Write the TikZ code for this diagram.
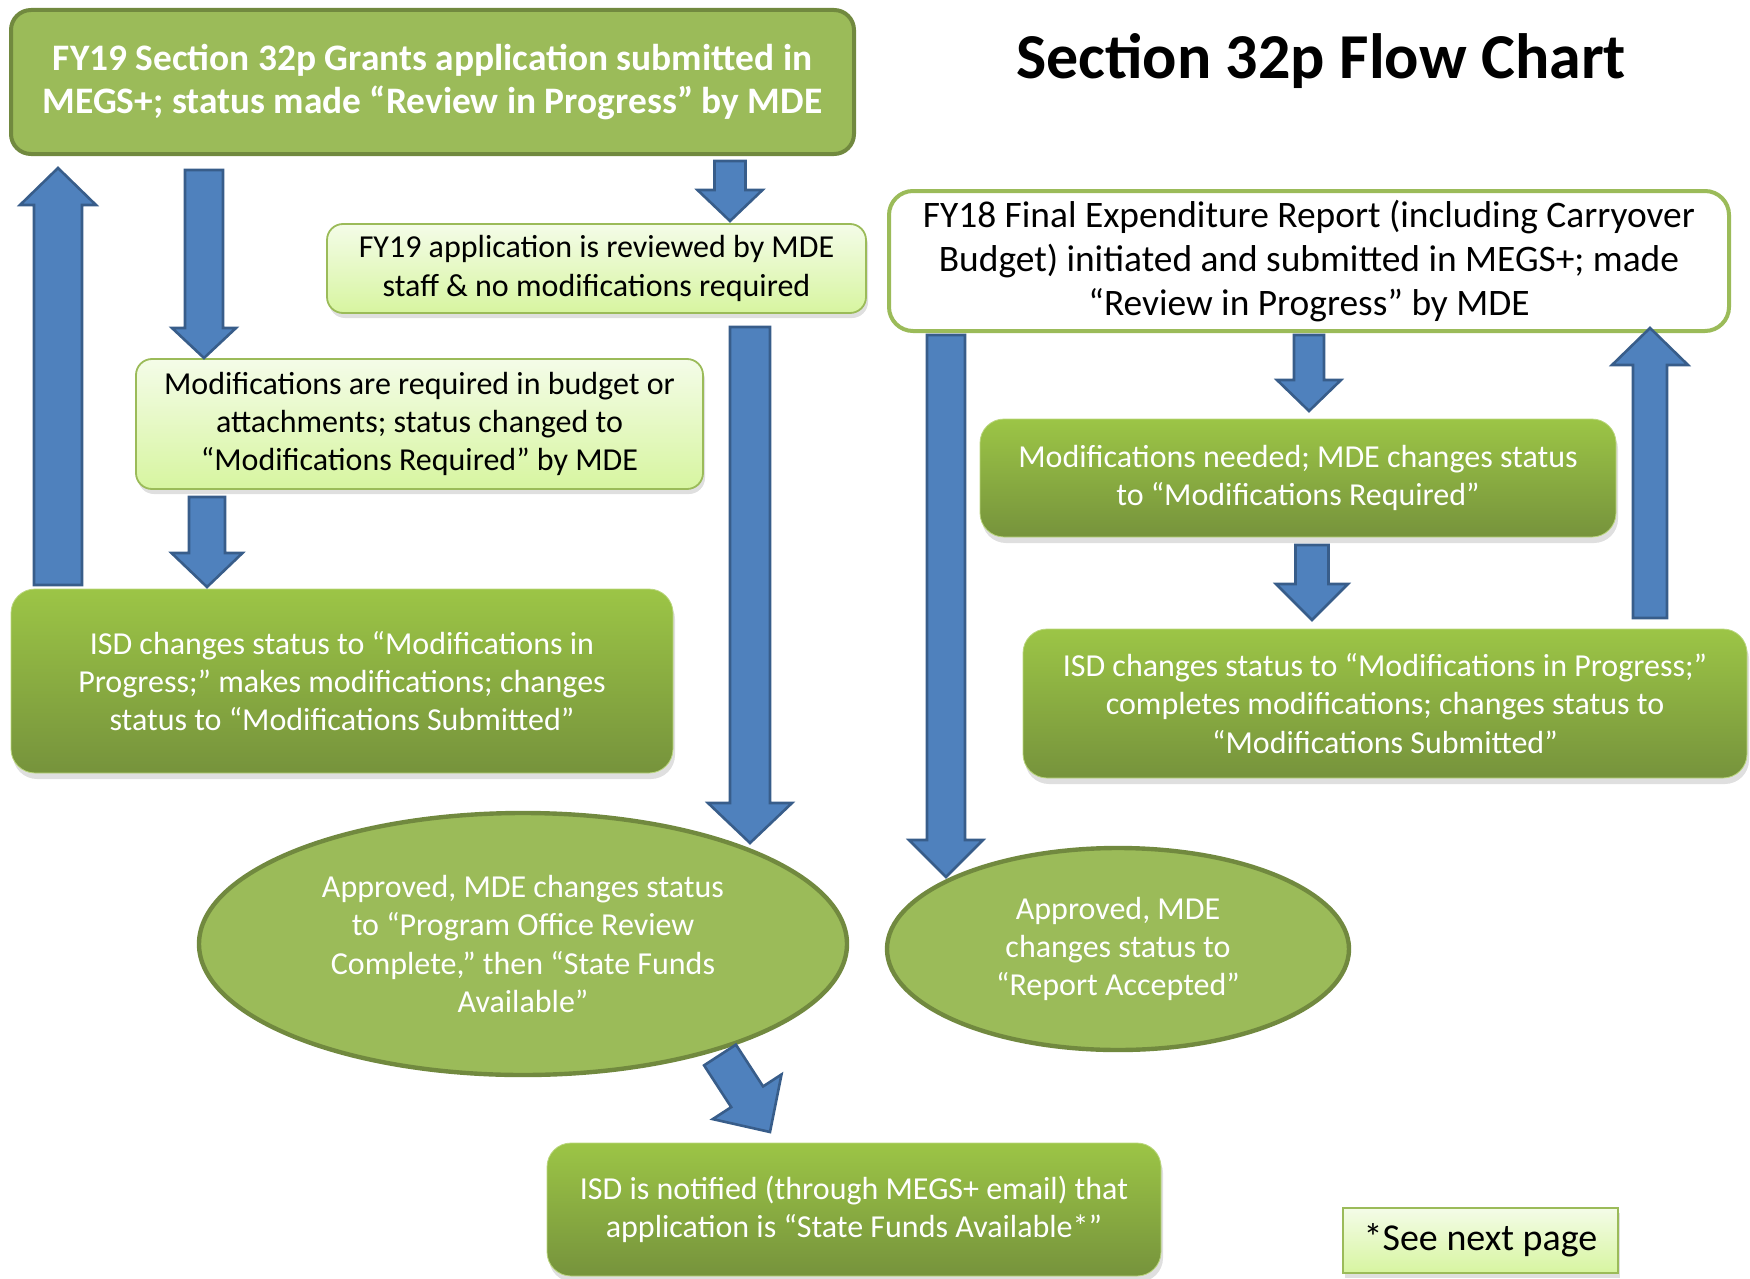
\documentclass[tikz,border=0pt]{standalone}
\usepackage{fontspec}
\setmainfont{Carlito}
\usepackage{tikz}
\usetikzlibrary{shapes.geometric,shadows,calc}

\definecolor{olivefill}{HTML}{9BBB59}
\definecolor{olivedark}{HTML}{71893F}
\definecolor{greentop}{HTML}{9CC546}
\definecolor{greenbot}{HTML}{76933C}
\definecolor{paletop}{HTML}{F4FCE8}
\definecolor{palebot}{HTML}{D7F5A0}
\definecolor{arrowblue}{HTML}{4F81BD}
\definecolor{arrowedge}{HTML}{385D8A}

\tikzset{
  txt/.style={font=\fontsize{16}{19.2}\selectfont, align=center, inner sep=0pt},
  darkbox/.style={txt, rectangle, rounded corners=12pt, top color=greentop, bottom color=greenbot,
    draw=greentop!70!white, line width=0.4pt, text=white,
    drop shadow={shadow xshift=1pt, shadow yshift=-3pt, opacity=0.25}},
  palebox/.style={txt, rectangle, rounded corners=8pt, top color=paletop, bottom color=palebot,
    draw=olivefill, line width=0.9pt,
    drop shadow={shadow xshift=1pt, shadow yshift=-2.5pt, opacity=0.25}},
  oval/.style={txt, ellipse, fill=olivefill, draw=olivedark, line width=2.2pt, text=white},
  barrow/.style={fill=arrowblue, draw=arrowedge, line width=1.3pt, line join=miter},
}

% #1 shaft half width, #2 head half width, #3 head length, #4 from, #5 to
\newcommand{\flowarrow}[5]{%
  \coordinate (hb) at ($(#5)!#3!(#4)$);
  \draw[barrow] ($(#4)!#1!90:(#5)$) -- ($(hb)!#1!90:(#5)$) -- ($(hb)!#2!90:(#5)$) -- (#5)
    -- ($(hb)!#2!-90:(#5)$) -- ($(hb)!#1!-90:(#5)$) -- ($(#4)!#1!-90:(#5)$) -- cycle;
}

\begin{document}
\begin{tikzpicture}[x=0.5pt,y=-0.5pt]
\useasboundingbox (0,0) rectangle (1750,1279);

\node[rectangle, rounded corners=10pt, fill=olivefill, draw=olivedark, line width=2pt, text=white,
  align=center, font=\fontsize{18.7}{21.8}\selectfont\bfseries,
  minimum width=421.5pt, minimum height=72pt] (grant) at (432.5,82)
  {FY19 Section 32p Grants application submitted in\\MEGS+; status made “Review in Progress” by MDE};
\node[font=\fontsize{32}{38}\selectfont\bfseries, anchor=base] (title) at (1321,79) {Section 32p Flow Chart};

\node[palebox, minimum width=269.5pt, minimum height=44.5pt] (review) at (596.5,268.5)
  {FY19 application is reviewed by MDE\\staff \& no modifications required};
\node[palebox, minimum width=283.5pt, minimum height=65pt] (modreq) at (419.5,424)
  {Modifications are required in budget or\\attachments; status changed to\\“Modifications Required” by MDE};
\node[darkbox, minimum width=331pt, minimum height=92pt] (isdleft) at (342,681)
  {ISD changes status to “Modifications in\\Progress;” makes modifications; changes\\status to “Modifications Submitted”};
\node[oval, minimum width=324pt, minimum height=131pt] (approved) at (523,944)
  {Approved, MDE changes status\\to “Program Office Review\\Complete,” then “State Funds\\Available”};
\node[oval, minimum width=231pt, minimum height=101pt] (accepted) at (1118,949)
  {Approved, MDE\\changes status to\\“Report Accepted”};
\node[darkbox, minimum width=307pt, minimum height=66.5pt] (notified) at (854,1209.5)
  {ISD is notified (through MEGS+ email) that\\application is “State Funds Available*”};

\node[rectangle, rounded corners=12pt, fill=white, draw=olivefill, line width=2pt, align=center,
  font=\fontsize{18.7}{22}\selectfont, minimum width=420pt, minimum height=70pt] (report) at (1309,261)
  {FY18 Final Expenditure Report (including Carryover\\Budget) initiated and submitted in MEGS+; made\\“Review in Progress” by MDE};
\node[darkbox, minimum width=318pt, minimum height=59pt] (modneed) at (1298,478)
  {Modifications needed; MDE changes status\\to “Modifications Required”};
\node[darkbox, minimum width=362pt, minimum height=74.5pt] (isdright) at (1385,703.5)
  {ISD changes status to “Modifications in Progress;”\\completes modifications; changes status to\\“Modifications Submitted”};
\node[palebox, rounded corners=0pt, font=\fontsize{19}{22}\selectfont,
  minimum width=137.5pt, minimum height=32.5pt] (note) at (1480.5,1240.5) {*See next page};

\coordinate (a1s) at (58,585);   \coordinate (a1e) at (58,168);
\coordinate (a2s) at (204,170);  \coordinate (a2e) at (204,358);
\coordinate (a3s) at (730,161);  \coordinate (a3e) at (730,221);
\coordinate (a4s) at (207,497);  \coordinate (a4e) at (207,587);
\coordinate (a5s) at (750,327);  \coordinate (a5e) at (750,843);
\coordinate (a6s) at (720,1055); \coordinate (a6e) at (770,1132);
\coordinate (a7s) at (1309,335); \coordinate (a7e) at (1309,411);
\coordinate (a8s) at (1312,545); \coordinate (a8e) at (1312,620);
\coordinate (a9s) at (1650,618); \coordinate (a9e) at (1650,328);
\coordinate (a10s) at (946,335); \coordinate (a10e) at (946,877);

\flowarrow{12pt}{19pt}{18.5pt}{a1s}{a1e}
\flowarrow{9.5pt}{16pt}{15pt}{a2s}{a2e}
\flowarrow{7.75pt}{16.25pt}{15.5pt}{a3s}{a3e}
\flowarrow{9pt}{17.75pt}{17pt}{a4s}{a4e}
\flowarrow{10pt}{21pt}{20pt}{a5s}{a5e}
\flowarrow{9.5pt}{20.5pt}{21pt}{a6s}{a6e}
\flowarrow{7.5pt}{16pt}{15.5pt}{a7s}{a7e}
\flowarrow{8.25pt}{18pt}{18pt}{a8s}{a8e}
\flowarrow{8.5pt}{19pt}{18.5pt}{a9s}{a9e}
\flowarrow{9.5pt}{18.5pt}{18.5pt}{a10s}{a10e}
\end{tikzpicture}
\end{document}
